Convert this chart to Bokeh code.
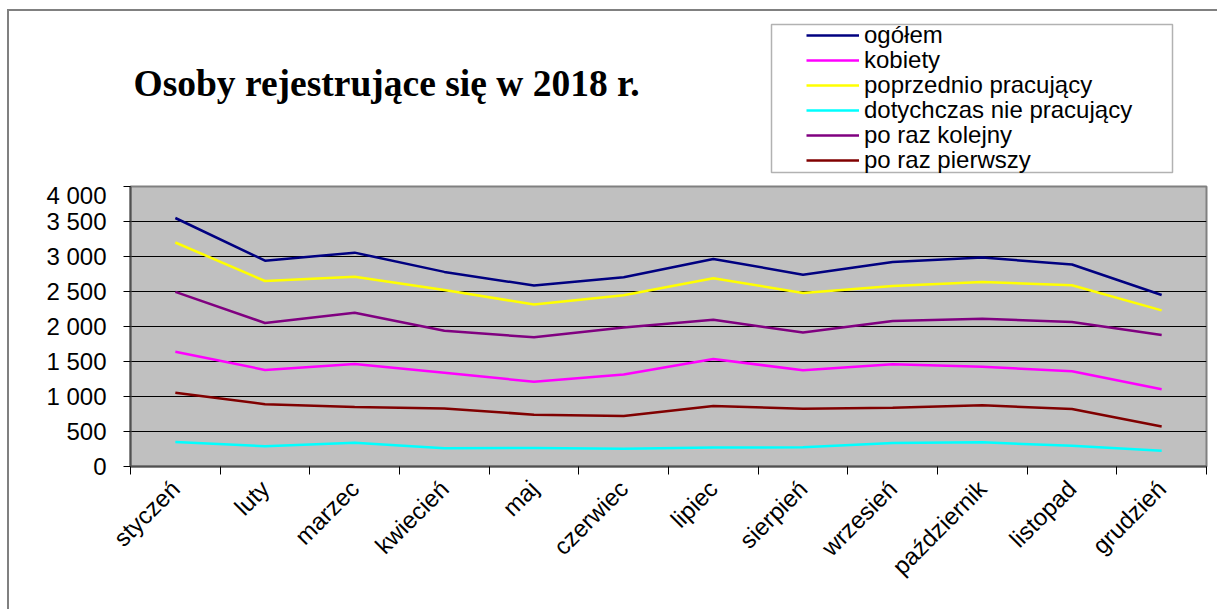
import numpy as np
from bokeh.plotting import figure
from bokeh.layouts import column
from bokeh.models import (Range1d, FixedTicker, Legend, LegendItem, Label,
                          BoxAnnotation, ColumnDataSource)
from bokeh.embed import file_html
from bokeh.resources import INLINE

months = ["styczeń", "luty", "marzec", "kwiecień", "maj", "czerwiec",
          "lipiec", "sierpień", "wrzesień", "październik", "listopad", "grudzień"]
ogolem = [3550, 2940, 3055, 2780, 2585, 2705, 2965, 2740, 2920, 2985, 2885, 2450]
kobiety = [1640, 1380, 1465, 1340, 1210, 1315, 1535, 1375, 1460, 1425, 1360, 1105]
poprzednio = [3200, 2650, 2710, 2520, 2315, 2445, 2690, 2480, 2580, 2635, 2590, 2230]
dotychczas = [350, 290, 340, 260, 265, 255, 270, 275, 335, 345, 295, 225]
kolejny = [2495, 2050, 2195, 1940, 1845, 1985, 2095, 1915, 2080, 2110, 2065, 1880]
pierwszy = [1055, 890, 850, 830, 740, 720, 865, 825, 840, 875, 820, 570]

series_names = ["ogółem", "kobiety", "poprzednio pracujący",
                "dotychczas nie pracujący", "po raz kolejny", "po raz pierwszy"]
series_values = [ogolem, kobiety, poprzednio, dotychczas, kolejny, pierwszy]
series_colors = ["#000080", "#FF00FF", "#FFFF00", "#00FFFF", "#800080", "#800000"]

y_ticks = [0, 500, 1000, 1500, 2000, 2500, 3000, 3500, 4000]
y_tick_labels = ["0", "500", "1 000", "1 500", "2 000", "2 500", "3 000", "3 500", "4 000"]
title_text = "Osoby rejestrujące się w 2018 r."

n = len(months)
xc = [i + 0.5 for i in range(n)]

# page geometry (px)
X0, Y0 = 9, 11            # top-left of content inside the outer border
W = 1208
TOP_H = 170
MAIN_H = 428
FR_L, FR_R = 130, 1206    # plot-area left/right
FR_T, FR_B = 186, 466     # plot-area top/bottom
HDR_B = Y0 + TOP_H        # bottom of header strip
LEG_X = 806               # legend glyph start
LEG_Y0, LEG_DY = 35, 25   # first legend row centre, row pitch
ROW_H = 30

# ---------------- header (title + legend) ----------------
top = figure(width=W, height=TOP_H, output_backend="svg", toolbar_location=None,
             x_range=Range1d(FR_L, FR_R), y_range=Range1d(0, TOP_H),
             x_axis_location=None, y_axis_location=None, min_border=0)
top.min_border_top = 0
top.min_border_bottom = 0
top.outline_line_color = None
top.background_fill_color = "white"
top.border_fill_color = "white"
top.xgrid.visible = False
top.ygrid.visible = False

box = BoxAnnotation(left=771, right=1172, top=HDR_B - 24, bottom=HDR_B - 172,
                    fill_color="white", fill_alpha=1.0,
                    line_color="black", line_width=1.5)
top.add_layout(box)

for i, (name, col) in enumerate(zip(series_names, series_colors)):
    r = top.line(x=[np.nan, np.nan], y=[np.nan, np.nan], line_color=col, line_width=2.5)
    centre = LEG_Y0 + LEG_DY * i
    lg = Legend(items=[LegendItem(label=name, renderers=[r])],
                location=(LEG_X - FR_L, HDR_B - centre - ROW_H // 2),
                orientation="vertical")
    lg.border_line_color = None
    lg.background_fill_alpha = 0
    lg.padding = 0
    lg.margin = 0
    lg.spacing = 0
    lg.glyph_width = 53
    lg.glyph_height = ROW_H
    lg.label_height = ROW_H
    lg.label_standoff = 5
    lg.label_text_font = "Liberation Sans"
    lg.label_text_font_size = "24px"
    lg.label_text_color = "black"
    top.add_layout(lg)

title = Label(x=133, y=HDR_B - 83, text=title_text,
              text_font="Liberation Serif", text_font_style="bold",
              text_font_size="37.5px", text_color="black",
              text_baseline="middle")
top.add_layout(title)

# ---------------- main chart ----------------
p = figure(width=W, height=MAIN_H, output_backend="svg", toolbar_location=None,
           x_range=Range1d(0, n), y_range=Range1d(y_ticks[0], y_ticks[-1]),
           min_border_left=FR_L - X0, min_border_right=X0 + W - FR_R,
           min_border_top=FR_T - HDR_B, min_border_bottom=HDR_B + MAIN_H - FR_B)
p.background_fill_color = "#C0C0C0"
p.border_fill_color = "white"
p.outline_line_color = "#808080"
p.outline_line_width = 2

p.xgrid.visible = False
p.ygrid.ticker = FixedTicker(ticks=y_ticks)
p.ygrid.grid_line_color = "black"
p.ygrid.grid_line_width = 1

p.yaxis.ticker = FixedTicker(ticks=y_ticks)
p.yaxis.major_label_overrides = {t: l for t, l in zip(y_ticks, y_tick_labels)}
p.yaxis.axis_line_color = "#505050"
p.yaxis.axis_line_width = 2
p.yaxis.major_tick_line_color = "black"
p.yaxis.major_tick_out = 7
p.yaxis.major_tick_in = 0
p.yaxis.minor_tick_line_color = None
p.yaxis.major_label_text_font = "Liberation Sans"
p.yaxis.major_label_text_font_size = "24px"
p.yaxis.major_label_text_color = "black"
p.yaxis.major_label_standoff = 17

p.xaxis.ticker = FixedTicker(ticks=xc, minor_ticks=list(range(n + 1)))
p.xaxis.major_label_overrides = {x: m for x, m in zip(xc, months)}
p.xaxis.major_label_orientation = np.pi / 4
p.xaxis.axis_line_color = "#505050"
p.xaxis.axis_line_width = 2
p.xaxis.major_tick_line_color = None
p.xaxis.minor_tick_line_color = "black"
p.xaxis.minor_tick_out = 8
p.xaxis.minor_tick_in = 0
p.xaxis.major_label_text_font = "Liberation Sans"
p.xaxis.major_label_text_font_size = "24px"
p.xaxis.major_label_text_color = "black"
p.xaxis.major_label_standoff = 10

for name, vals, col in zip(series_names, series_values, series_colors):
    src = ColumnDataSource(dict(x=xc, y=vals))
    p.line("x", "y", source=src, line_color=col, line_width=2.5)

layout = column(top, p, spacing=0)
layout.styles = {"margin-left": "7px", "margin-top": "9px",
                 "border-left": "2px solid #808080", "border-top": "2px solid #808080"}

open("out.html", "w").write(file_html(layout, INLINE))
